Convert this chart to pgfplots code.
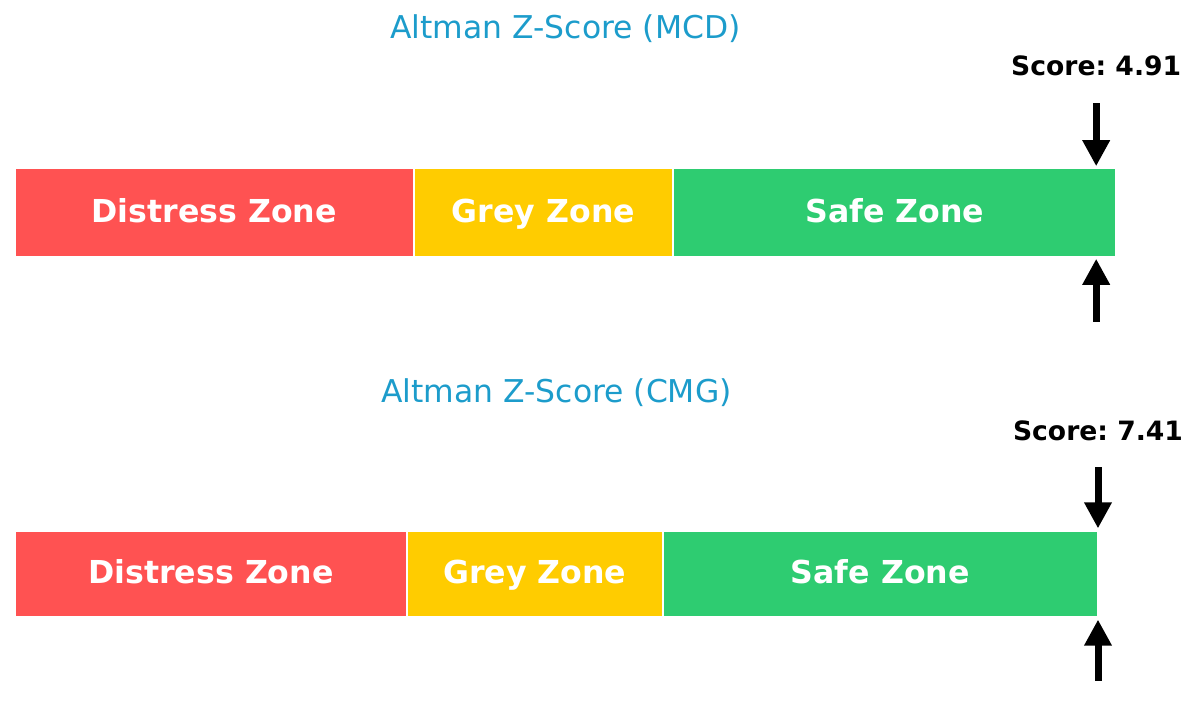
\documentclass[border=0pt]{standalone}
\usepackage{pgfplots}
\pgfplotsset{compat=1.18}
\usetikzlibrary{arrows.meta}
\usepackage{fontspec}
\setmainfont{DejaVu Sans}
\frenchspacing
\definecolor{zred}{HTML}{FF5252}
\definecolor{zyellow}{HTML}{FFCC00}
\definecolor{zgreen}{HTML}{2ECC71}
\definecolor{ztitle}{HTML}{1C9CCB}
\pgfplotsset{
  zonebar/.style={
    scale only axis, xmin=0, xmax=5, ymin=0, ymax=1,
    axis lines=none, ticks=none, clip=false,
  },
  zone/.style={fill=#1, draw=white, line width=1pt},
  scorearrow/.style={black, line width=3.5pt, -{Triangle[length=13pt,width=13pt]}},
}
\tikzset{
  zonelabel/.style={anchor=base, text=white, font=\fontsize{15.8}{18}\selectfont\bfseries},
  scorelabel/.style={anchor=base, text=black, font=\fontsize{13.3}{15}\selectfont\bfseries},
  titlelabel/.style={anchor=base, text=ztitle, font=\fontsize{15.7}{18}\selectfont},
}
\begin{document}
\begin{tikzpicture}
\path[use as bounding box] (0,0) rectangle (600pt,362pt);
% ---------- top panel (MCD) ----------
\begin{axis}[zonebar, at={(7.5pt,233.5pt)}, anchor=south west, width=550.5pt, height=44.5pt]
\addplot[zone=zred] coordinates {(0,0) (1.81,0) (1.81,1) (0,1) (0,0)};
\addplot[zone=zyellow] coordinates {(1.81,0) (2.99,0) (2.99,1) (1.81,1) (1.81,0)};
\addplot[zone=zgreen] coordinates {(2.99,0) (5.0,0) (5.0,1) (2.99,1) (2.99,0)};
\node[zonelabel] at (axis cs:0.905,0.39) {Distress Zone};
\node[zonelabel] at (axis cs:2.40,0.39) {Grey Zone};
\node[zonelabel] at (axis cs:3.995,0.39) {Safe Zone};
\addplot[scorearrow] coordinates {(4.91,1.73) (4.91,1.02)};
\addplot[scorearrow] coordinates {(4.91,-0.73) (4.91,-0.02)};
\node[scorelabel] at (axis cs:4.91,2.034) {Score: 4.91};
\node[titlelabel] at (axis cs:2.5,2.46) {Altman Z-Score (MCD)};
\end{axis}
% ---------- bottom panel (CMG) ----------
\begin{axis}[zonebar, at={(7.5pt,53.5pt)}, anchor=south west, width=541.5pt, height=43pt]
\addplot[zone=zred] coordinates {(0,0) (1.81,0) (1.81,1) (0,1) (0,0)};
\addplot[zone=zyellow] coordinates {(1.81,0) (2.99,0) (2.99,1) (1.81,1) (1.81,0)};
\addplot[zone=zgreen] coordinates {(2.99,0) (5.0,0) (5.0,1) (2.99,1) (2.99,0)};
\node[zonelabel] at (axis cs:0.905,0.39) {Distress Zone};
\node[zonelabel] at (axis cs:2.40,0.39) {Grey Zone};
\node[zonelabel] at (axis cs:3.995,0.39) {Safe Zone};
\addplot[scorearrow] coordinates {(5.0,1.74) (5.0,1.03)};
\addplot[scorearrow] coordinates {(5.0,-0.74) (5.0,-0.03)};
\node[scorelabel] at (axis cs:5.0,2.05) {Score: 7.41};
\node[titlelabel] at (axis cs:2.5,2.49) {Altman Z-Score (CMG)};
\end{axis}
\end{tikzpicture}
\end{document}
